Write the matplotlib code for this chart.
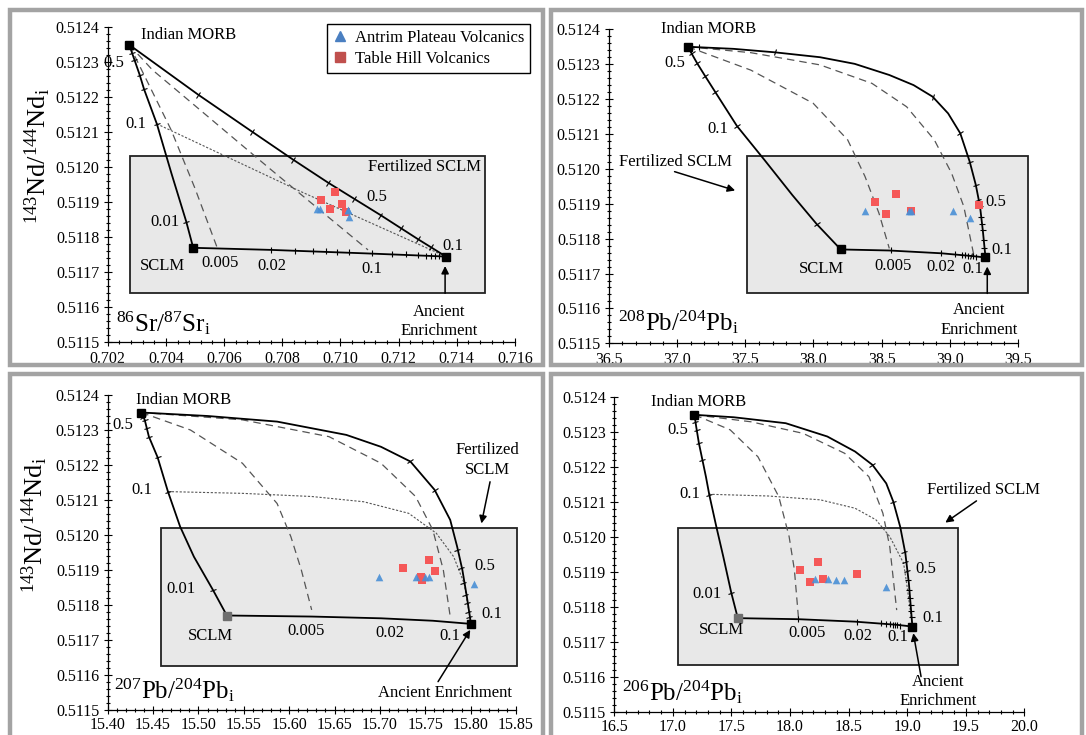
import matplotlib.pyplot as plt
import numpy as np
from matplotlib.patches import Rectangle
from matplotlib.lines import Line2D
from matplotlib.markers import MarkerStyle
from matplotlib.transforms import Affine2D
from matplotlib.ticker import MultipleLocator, AutoMinorLocator, FormatStrFormatter

plt.rcParams['font.family'] = ['Liberation Serif', 'DejaVu Serif']
plt.rcParams['mathtext.fontset'] = 'custom'
plt.rcParams['mathtext.rm'] = 'Liberation Serif'
plt.rcParams['mathtext.it'] = 'Liberation Serif:italic'
plt.rcParams['mathtext.bf'] = 'Liberation Serif:bold'

# ---------------- values ----------------
# samples: 143Nd/144Nd (shared by all panels)
nd_red = [0.511906, 0.511929, 0.511880, 0.511896, 0.511872]
nd_blue = [0.511880, 0.511880, 0.511879, 0.511879, 0.511859]

sr_red = [0.70935, 0.70982, 0.70964, 0.71004, 0.71021]
sr_blue = [0.70920, 0.70929, 0.71025, 0.71027, 0.71030]
pb208_red = [38.449, 38.607, 38.716, 39.211, 38.530]
pb208_blue = [38.378, 38.700, 38.716, 39.020, 39.147]
pb207_red = [15.7252, 15.7546, 15.7455, 15.7611, 15.7465]
pb207_blue = [15.6993, 15.7393, 15.7500, 15.7546, 15.8042]
pb206_red = [18.081, 18.235, 18.283, 18.573, 18.170]
pb206_blue = [18.214, 18.327, 18.392, 18.460, 18.821]

# end-members: Indian MORB, SCLM, ancient enrichment
sr_ends = [(0.70274, 0.51235), (0.70494, 0.51177), (0.71363, 0.511745)]
pb208_ends = [(37.079, 0.51235), (38.200, 0.511769), (39.261, 0.511746)]
pb207_ends = [(15.437, 0.51235), (15.5313, 0.51177), (15.8004, 0.511746)]
pb206_ends = [(17.184, 0.51235), (17.554, 0.511769), (19.044, 0.511745)]

# fertilized SCLM field (x0, x1, y0, y1)
sr_box = (0.70277, 0.71498, 0.51164, 0.512033)
pb208_box = (37.515, 39.571, 0.511643, 0.512038)
pb207_box = (15.4588, 15.8512, 0.511627, 0.512019)
pb206_box = (17.045, 19.437, 0.511635, 0.512026)

# mixing curves, Sr panel
sr_morb_sclm = [(0.70274, 0.51235), (0.70292, 0.512307), (0.70310, 0.512264), (0.70325, 0.512223),
                (0.70369, 0.512124), (0.70419, 0.511983), (0.70470, 0.511845), (0.70494, 0.51177)]
sr_morb_enr = [(0.70274, 0.51235), (0.70512, 0.512207), (0.70696, 0.512102), (0.70839, 0.512021),
               (0.70958, 0.511956), (0.71137, 0.511864), (0.71268, 0.511794), (0.71363, 0.511745)]
sr_sclm_enr = [(0.70494, 0.51177), (0.70762, 0.511764), (0.71089, 0.511754), (0.71363, 0.511745)]
sr_dash_a = [(0.70274, 0.51235), (0.70418, 0.512107), (0.70500, 0.51194), (0.70577, 0.511769)]
sr_dash_b = [(0.70274, 0.51235), (0.70354, 0.512278), (0.70423, 0.51223), (0.70756, 0.511997),
             (0.71095, 0.511764)]
sr_dot = [(0.70369, 0.512124), (0.70863, 0.511931), (0.71363, 0.511745)]
sr_tk_ms = [(0.70283, 0.512326), (0.70292, 0.512307), (0.70310, 0.512264), (0.70325, 0.512223),
            (0.70369, 0.512124), (0.70470, 0.511845)]
sr_tk_me = [(0.70512, 0.512207), (0.70696, 0.512102), (0.70837, 0.512021), (0.70958, 0.511956),
            (0.71048, 0.511909), (0.71137, 0.511862), (0.71208, 0.511826), (0.71268, 0.511794),
            (0.71310, 0.511771)]
sr_tk_se = [(0.70762, 0.511764), (0.70845, 0.511762), (0.70905, 0.511761), (0.70952, 0.51176),
            (0.70988, 0.511759), (0.71030, 0.511758), (0.71107, 0.511756), (0.71179, 0.511753),
            (0.71226, 0.511751), (0.71268, 0.511749), (0.71294, 0.511748), (0.71313, 0.511748),
            (0.71327, 0.511747), (0.71339, 0.511747)]

# mixing curves, 208Pb panel
pb208_morb_sclm = [(37.079, 0.51235), (37.147, 0.512303), (37.206, 0.512266), (37.279, 0.512221),
                   (37.439, 0.512123), (37.642, 0.512025), (37.845, 0.511925), (38.023, 0.511842),
                   (38.200, 0.511769)]
pb208_morb_enr = [(37.079, 0.51235), (37.414, 0.512344), (37.718, 0.512334), (38.048, 0.51232),
                  (38.302, 0.512301), (38.556, 0.512269), (38.734, 0.51224), (38.873, 0.512207),
                  (38.987, 0.512159), (39.076, 0.512102), (39.145, 0.512021), (39.190, 0.511954),
                  (39.221, 0.511892), (39.241, 0.511825), (39.261, 0.511746)]
pb208_sclm_enr = [(38.200, 0.511769), (38.556, 0.511766), (38.937, 0.511758), (39.165, 0.51175),
                  (39.261, 0.511746)]
pb208_dash_a = [(37.079, 0.51235), (37.541, 0.512333), (38.048, 0.512298), (38.429, 0.512245),
                (38.683, 0.512178), (38.886, 0.512083), (39.013, 0.511987), (39.102, 0.511892),
                (39.178, 0.511748)]
pb208_dash_b = [(37.079, 0.51235), (37.541, 0.512283), (37.998, 0.512188), (38.251, 0.512083),
                (38.378, 0.511978), (38.480, 0.511873), (38.556, 0.511772)]
pb208_tk_ms = [(37.109, 0.512331), (37.147, 0.512303), (37.206, 0.512266), (37.279, 0.512221),
               (37.439, 0.512123), (38.023, 0.511842)]
pb208_tk_me = [(37.160, 0.512348), (37.718, 0.512334), (38.873, 0.512207), (39.076, 0.512102),
               (39.145, 0.512021), (39.190, 0.511954), (39.206, 0.511911), (39.221, 0.511892),
               (39.228, 0.511863), (39.233, 0.511842), (39.241, 0.511825), (39.247, 0.511796),
               (39.252, 0.511772)]
pb208_tk_se = [(38.569, 0.511766), (38.937, 0.511758), (39.038, 0.511755), (39.089, 0.511753),
               (39.114, 0.511752), (39.135, 0.511751), (39.152, 0.51175), (39.170, 0.511749),
               (39.190, 0.511748)]

# mixing curves, 207Pb panel
pb207_morb_sclm = [(15.4370, 0.51235), (15.4408, 0.512329), (15.4454, 0.512281), (15.4550, 0.512222),
                   (15.4664, 0.512124), (15.4798, 0.512024), (15.4950, 0.511938), (15.5160, 0.511843),
                   (15.5313, 0.51177)]
pb207_morb_enr = [(15.4370, 0.51235), (15.5103, 0.51234), (15.5867, 0.512324), (15.6630, 0.512286),
                  (15.7012, 0.512252), (15.7336, 0.51221), (15.7603, 0.512129), (15.7775, 0.512043),
                  (15.7851, 0.511967), (15.7909, 0.5119), (15.7958, 0.511824), (15.8004, 0.511746)]
pb207_sclm_enr = [(15.5313, 0.51177), (15.6248, 0.511767), (15.7012, 0.511762), (15.7584, 0.511755),
                  (15.8004, 0.511746)]
pb207_dash_a = [(15.4370, 0.51235), (15.5485, 0.512329), (15.6439, 0.512281), (15.7012, 0.512205),
                (15.7393, 0.51211), (15.7584, 0.512014), (15.7699, 0.5119), (15.7775, 0.511767)]
pb207_dash_b = [(15.4370, 0.51235), (15.4912, 0.5123), (15.5485, 0.512205), (15.5867, 0.51209),
                (15.6019, 0.511995), (15.6134, 0.5119), (15.6248, 0.511786)]
pb207_dot = [(15.4664, 0.512124), (15.5485, 0.512119), (15.6248, 0.51211), (15.6821, 0.512095),
             (15.7317, 0.512062), (15.7622, 0.512005), (15.7813, 0.511938), (15.7928, 0.511862),
             (15.8004, 0.511746)]
pb207_tk_ms = [(15.4386, 0.512338), (15.4408, 0.512329), (15.4435, 0.512305), (15.4454, 0.512281),
               (15.4550, 0.512222), (15.4664, 0.512124), (15.5160, 0.511843)]
pb207_tk_me = [(15.7336, 0.51221), (15.7603, 0.512129), (15.7851, 0.511957), (15.7889, 0.511905),
               (15.7920, 0.511862), (15.7939, 0.511829), (15.7958, 0.511805), (15.7973, 0.511781),
               (15.7985, 0.511767)]

# mixing curves, 206Pb panel
pb206_morb_sclm = [(17.184, 0.51235), (17.199, 0.512316), (17.222, 0.512269), (17.252, 0.512221),
                   (17.282, 0.512173), (17.311, 0.512121), (17.371, 0.51203), (17.430, 0.511945),
                   (17.498, 0.511842), (17.554, 0.511769)]
pb206_morb_enr = [(17.184, 0.51235), (17.519, 0.512343), (17.963, 0.512326), (18.318, 0.512288),
                  (18.555, 0.512245), (18.703, 0.512207), (18.821, 0.512154), (18.881, 0.512102),
                  (18.940, 0.51203), (18.984, 0.511954), (19.014, 0.511869), (19.044, 0.511745)]
pb206_sclm_enr = [(17.554, 0.511769), (18.072, 0.511766), (18.555, 0.511759), (18.910, 0.51175),
                  (19.044, 0.511745)]
pb206_dash_a = [(17.184, 0.51235), (17.667, 0.51233), (18.111, 0.512297), (18.466, 0.51224),
                (18.673, 0.512173), (18.792, 0.512069), (18.851, 0.511973), (18.910, 0.511792)]
pb206_dash_b = [(17.184, 0.51235), (17.489, 0.512307), (17.726, 0.51223), (17.904, 0.512116),
                (17.992, 0.512002), (18.037, 0.511907), (18.072, 0.511769)]
pb206_dot = [(17.305, 0.512123), (17.815, 0.512118), (18.259, 0.512107), (18.555, 0.512083),
             (18.733, 0.51205), (18.851, 0.512002), (18.969, 0.511926), (18.999, 0.511859),
             (19.044, 0.511745)]
pb206_tk_ms = [(17.193, 0.51233), (17.208, 0.512307), (17.222, 0.512269), (17.252, 0.512221),
               (17.311, 0.512121), (17.498, 0.511842)]
pb206_tk_me = [(18.703, 0.512207), (18.881, 0.512102), (18.969, 0.511959), (18.984, 0.51193),
               (18.999, 0.511904), (19.008, 0.511878), (19.017, 0.511849), (19.023, 0.511826),
               (19.029, 0.511807), (19.035, 0.511788), (19.038, 0.511771)]
pb206_tk_se = [(18.072, 0.511766), (18.573, 0.511758), (18.777, 0.511754), (18.821, 0.511752),
               (18.851, 0.511751), (18.875, 0.51175), (18.895, 0.511749), (18.916, 0.511749),
               (18.940, 0.511748)]

# ---------------- drawing ----------------
W, H = 1086, 735
fig = plt.figure(figsize=(W / 100, H / 100), dpi=100)

RED = '#f55858'
BLUE = '#4a8fd6'


def add_panel(l, t, r, b, xlim, xmaj, xfmt, xpad):
    ax = fig.add_axes([l / W, 1 - b / H, (r - l) / W, (b - t) / H])
    ax.set_xlim(xlim)
    ax.set_ylim(0.5115, 0.5124)
    ax.patch.set_alpha(0)
    ax.spines[['top', 'right']].set_visible(False)
    ax.spines[['left', 'bottom']].set_linewidth(0.9)
    ax.tick_params(which='both', direction='inout', width=0.8, labelsize=11.5)
    ax.tick_params(which='major', length=6)
    ax.tick_params(which='minor', length=3)
    ax.tick_params(axis='y', pad=3)
    ax.tick_params(axis='x', pad=xpad)
    ax.yaxis.set_major_locator(MultipleLocator(0.0001))
    ax.yaxis.set_minor_locator(AutoMinorLocator(5))
    ax.yaxis.set_major_formatter(FormatStrFormatter('%.4f'))
    ax.xaxis.set_major_locator(MultipleLocator(xmaj))
    ax.xaxis.set_minor_locator(AutoMinorLocator(5))
    ax.xaxis.set_major_formatter(FormatStrFormatter(xfmt))
    return ax


def line(ax, pts, style):
    p = np.array(pts)
    if style == 'solid':
        ax.plot(p[:, 0], p[:, 1], color='k', lw=1.3, zorder=3)
    elif style == 'dash':
        ax.plot(p[:, 0], p[:, 1], color='#555555', lw=0.9, dashes=(6, 4), zorder=2)
    else:
        ax.plot(p[:, 0], p[:, 1], color='#555555', lw=0.8, dashes=(2, 1.5), zorder=2)


def ticks(ax, pts):
    p = np.array(pts)
    d = ax.transData.transform(p)
    n = len(p)
    for i in range(n):
        a = d[max(i - 1, 0)]
        b = d[min(i + 1, n - 1)]
        ang = np.degrees(np.arctan2(b[1] - a[1], b[0] - a[0]))
        m = MarkerStyle('|', transform=Affine2D().rotate_deg(ang))
        ax.plot(p[i, 0], p[i, 1], marker=m, ms=5, color='k', mew=0.8, zorder=4)


def base(ax, box, ends, sclm_col):
    x0, x1, y0, y1 = box
    ax.add_patch(Rectangle((x0, y0), x1 - x0, y1 - y0, facecolor='#e8e8e8',
                           edgecolor='#222222', lw=1.3, zorder=0, clip_on=False))
    cols = ['k', sclm_col, 'k']
    for (x, y), c in zip(ends, cols):
        ax.plot(x, y, 's', ms=5.5, color=c, zorder=6, clip_on=False)


def samples(ax, xr, xb):
    ax.scatter(xr, nd_red, marker='s', s=26, color=RED, zorder=7, lw=0, clip_on=False)
    ax.scatter(xb, nd_blue, marker='^', s=30, color=BLUE, alpha=0.9, zorder=8, lw=0,
               clip_on=False)


def txt(ax, x, y, s, ha='center', size=12, **kw):
    ax.text(x, y, s, ha=ha, va='center', fontsize=size, zorder=9, **kw)


def arrow(ax, tail, head):
    ax.annotate('', xy=head, xytext=tail, annotation_clip=False,
                arrowprops=dict(arrowstyle='-|>', color='k', lw=1.1,
                                mutation_scale=11, shrinkA=0, shrinkB=0), zorder=9)


ylab = r'$^{143}$Nd/$^{144}$Nd$_{\mathrm{i}}$'

# ---- panel 1: Sr ----
ax1 = add_panel(107.7, 27.3, 514.9, 342.3, (0.702, 0.716), 0.002, '%.3f', 3.5)
base(ax1, sr_box, sr_ends, 'k')
line(ax1, sr_dash_a, 'dash')
line(ax1, sr_dash_b, 'dash')
line(ax1, sr_dot, 'dot')
line(ax1, sr_morb_sclm, 'solid')
line(ax1, sr_morb_enr, 'solid')
line(ax1, sr_sclm_enr, 'solid')
ticks(ax1, sr_tk_ms)
ticks(ax1, sr_tk_me)
ticks(ax1, sr_tk_se)
samples(ax1, sr_red, sr_blue)
txt(ax1, 0.70316, 0.512378, 'Indian MORB', ha='left')
txt(ax1, 0.70258, 0.512299, '0.5', ha='right')
txt(ax1, 0.70333, 0.512124, '0.1', ha='right')
txt(ax1, 0.70446, 0.511845, '0.01', ha='right')
txt(ax1, 0.70387, 0.511719, 'SCLM')
txt(ax1, 0.70587, 0.511726, '0.005')
txt(ax1, 0.70764, 0.511719, '0.02')
txt(ax1, 0.71107, 0.511709, '0.1')
txt(ax1, 0.71125, 0.511916, '0.5')
txt(ax1, 0.71387, 0.511775, '0.1')
txt(ax1, 0.71482, 0.512002, 'Fertilized SCLM', ha='right')
ax1.text(0.71339, 0.511559, 'Ancient\nEnrichment', ha='center', va='center',
         fontsize=12, linespacing=1.3)
arrow(ax1, (0.71360, 0.51164), (0.71360, 0.511718))
txt(ax1, 0.70230, 0.511556, r'$^{86}$Sr/$^{87}$Sr$_{\mathrm{i}}$', ha='left', size=18)
fig.text(38 / W, 1 - 156 / H, ylab, rotation=90, ha='center', va='center', fontsize=19)

handles = [Line2D([], [], ls='none', marker='^', color='#4a7fc1', ms=7),
           Line2D([], [], ls='none', marker='s', color='#c0504d', ms=7)]
leg = fig.legend(handles, ['Antrim Plateau Volcanics', 'Table Hill Volcanics'],
                 loc='upper right', bbox_to_anchor=(530 / W, 1 - 24 / H), fontsize=12,
                 frameon=True, fancybox=False, edgecolor='k', framealpha=1,
                 handlelength=0.8, handletextpad=0.5, borderpad=0.35, labelspacing=0.3,
                 borderaxespad=0)
leg.get_frame().set_linewidth(1.0)

# ---- panel 2: 208Pb ----
ax2 = add_panel(608.8, 29.3, 1018.1, 343.3, (36.5, 39.5), 0.5, '%.1f', 3.5)
base(ax2, pb208_box, pb208_ends, 'k')
line(ax2, pb208_dash_a, 'dash')
line(ax2, pb208_dash_b, 'dash')
line(ax2, pb208_morb_sclm, 'solid')
line(ax2, pb208_morb_enr, 'solid')
line(ax2, pb208_sclm_enr, 'solid')
ticks(ax2, pb208_tk_ms)
ticks(ax2, pb208_tk_me)
ticks(ax2, pb208_tk_se)
samples(ax2, pb208_red, pb208_blue)
txt(ax2, 36.881, 0.5124, 'Indian MORB', ha='left')
txt(ax2, 37.058, 0.512304, '0.5', ha='right')
txt(ax2, 37.376, 0.512113, '0.1', ha='right')
txt(ax2, 36.990, 0.512019, 'Fertilized SCLM')
arrow(ax2, (36.982, 0.511992), (37.426, 0.511938))
txt(ax2, 38.061, 0.511712, 'SCLM')
txt(ax2, 38.581, 0.511722, '0.005')
txt(ax2, 38.932, 0.51172, '0.02')
txt(ax2, 39.165, 0.511712, '0.1')
txt(ax2, 39.338, 0.511904, '0.5')
txt(ax2, 39.381, 0.511768, '0.1')
ax2.text(39.216, 0.511567, 'Ancient\nEnrichment', ha='center', va='center',
         fontsize=12, linespacing=1.3)
arrow(ax2, (39.274, 0.511643), (39.274, 0.51172))
txt(ax2, 36.571, 0.511562, r'$^{208}$Pb/$^{204}$Pb$_{\mathrm{i}}$', ha='left', size=18)

# ---- panel 3: 207Pb ----
ax3 = add_panel(107.7, 395, 516.0, 710, (15.40, 15.85), 0.05, '%.2f', 2)
base(ax3, pb207_box, pb207_ends, '#6e6e6e')
line(ax3, pb207_dash_a, 'dash')
line(ax3, pb207_dash_b, 'dash')
line(ax3, pb207_dot, 'dot')
line(ax3, pb207_morb_sclm, 'solid')
line(ax3, pb207_morb_enr, 'solid')
line(ax3, pb207_sclm_enr, 'solid')
ticks(ax3, pb207_tk_ms)
ticks(ax3, pb207_tk_me)
samples(ax3, pb207_red, pb207_blue)
txt(ax3, 15.4309, 0.512386, 'Indian MORB', ha='left')
txt(ax3, 15.4282, 0.512314, '0.5', ha='right')
txt(ax3, 15.4492, 0.512129, '0.1', ha='right')
txt(ax3, 15.4970, 0.511846, '0.01', ha='right')
txt(ax3, 15.5130, 0.51171, 'SCLM')
txt(ax3, 15.6191, 0.511726, '0.005')
txt(ax3, 15.7107, 0.511719, '0.02')
txt(ax3, 15.7775, 0.51171, '0.1')
txt(ax3, 15.8157, 0.511911, '0.5')
txt(ax3, 15.8233, 0.511774, '0.1')
ax3.text(15.8187, 0.512214, 'Fertilized\nSCLM', ha='center', va='center',
         fontsize=12, linespacing=1.3)
arrow(ax3, (15.8214, 0.512152), (15.8119, 0.512033))
txt(ax3, 15.7718, 0.511548, 'Ancient Enrichment')
arrow(ax3, (15.7641, 0.511581), (15.7996, 0.511729))
txt(ax3, 15.4073, 0.511557, r'$^{207}$Pb/$^{204}$Pb$_{\mathrm{i}}$', ha='left', size=18)
fig.text(35 / W, 1 - 525 / H, ylab, rotation=90, ha='center', va='center', fontsize=19)

# ---- panel 4: 206Pb ----
ax4 = add_panel(614.3, 397.3, 1024.4, 712.3, (16.5, 20.0), 0.5, '%.1f', 2)
base(ax4, pb206_box, pb206_ends, '#6e6e6e')
line(ax4, pb206_dash_a, 'dash')
line(ax4, pb206_dash_b, 'dash')
line(ax4, pb206_dot, 'dot')
line(ax4, pb206_morb_sclm, 'solid')
line(ax4, pb206_morb_enr, 'solid')
line(ax4, pb206_sclm_enr, 'solid')
ticks(ax4, pb206_tk_ms)
ticks(ax4, pb206_tk_me)
ticks(ax4, pb206_tk_se)
samples(ax4, pb206_red, pb206_blue)
txt(ax4, 16.814, 0.512386, 'Indian MORB', ha='left')
txt(ax4, 17.128, 0.512307, '0.5', ha='right')
txt(ax4, 17.237, 0.512124, '0.1', ha='right')
txt(ax4, 19.651, 0.512135, 'Fertilized SCLM')
arrow(ax4, (19.591, 0.512104), (19.325, 0.512042))
txt(ax4, 17.415, 0.511838, '0.01', ha='right')
txt(ax4, 17.415, 0.511735, 'SCLM')
txt(ax4, 18.146, 0.511726, '0.005')
txt(ax4, 18.579, 0.511719, '0.02')
txt(ax4, 18.916, 0.511714, '0.1')
txt(ax4, 19.156, 0.51191, '0.5')
txt(ax4, 19.221, 0.511769, '0.1')
ax4.text(19.266, 0.511559, 'Ancient\nEnrichment', ha='center', va='center',
         fontsize=12, linespacing=1.3)
arrow(ax4, (19.118, 0.511602), (19.052, 0.511726))
txt(ax4, 16.565, 0.511559, r'$^{206}$Pb/$^{204}$Pb$_{\mathrm{i}}$', ha='left', size=18)

# panel frames
for l, t, r, b in [(10, 10, 543, 365), (551, 10, 1082, 365),
                   (10, 374, 543, 745), (551, 374, 1082, 745)]:
    fig.add_artist(Rectangle((l / W, 1 - b / H), (r - l) / W, (b - t) / H,
                             transform=fig.transFigure, fill=False,
                             ec='#a3a3a3', lw=3.2))

fig.savefig('out.png', dpi=100)
